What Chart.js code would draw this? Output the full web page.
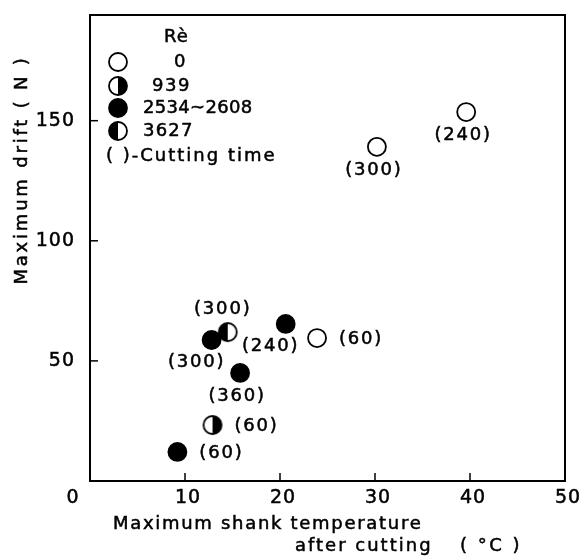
<!DOCTYPE html>
<html>
<head>
<meta charset="utf-8">
<script src="https://cdn.jsdelivr.net/npm/chart.js@4"></script>
<style>
  body { margin: 0; background: #fff; }
  #wrap { width: 581px; height: 556px; }
</style>
</head>
<body>
<div id="wrap"><canvas id="c"></canvas></div>
<script>
// data (x: shank temperature °C, y: drift N, t: cutting time)
const re0X = [23.9, 30.2, 39.6];
const re0Y = [59.5, 139.1, 153.6];
const re0T = [60, 300, 240];

const re939X = [12.9];
const re939Y = [23.3];
const re939T = [60];

const re2534X = [9.2, 12.8, 15.8, 20.6];
const re2534Y = [12.1, 58.7, 45.0, 65.4];
const re2534T = [60, 300, 360, 240];

const re3627X = [14.5];
const re3627Y = [62.0];
const re3627T = [300];

const xTicks = [0, 10, 20, 30, 40, 50];
const yTicks = [50, 100, 150];
const legendNames = ['0', '939', '2534~2608', '3627'];

// where each "(time)" label sits next to its point
const lblPos = {
  re0: ['right', 'below', 'below'],
  re939: ['right'],
  re2534: ['right', 'belowLeft', 'below', 'belowLeft'],
  re3627: ['above'],
};

const FONT = '"DejaVu Sans", sans-serif';
const R = 9;

function halfCircle(side) {
  const s = 2 * R + 4, c = document.createElement('canvas');
  c.width = c.height = s;
  const ctx = c.getContext('2d'), m = s / 2;
  ctx.fillStyle = '#fff';
  ctx.beginPath(); ctx.arc(m, m, R, 0, Math.PI * 2); ctx.fill();
  ctx.fillStyle = '#000';
  ctx.beginPath(); ctx.moveTo(m, m - R);
  ctx.arc(m, m, R, -Math.PI / 2, Math.PI / 2, side === 'left');
  ctx.closePath(); ctx.fill();
  ctx.lineWidth = 1.8; ctx.strokeStyle = '#000';
  ctx.beginPath(); ctx.arc(m, m, R, 0, Math.PI * 2); ctx.stroke();
  return c;
}
const rightHalf = halfCircle('right');
const leftHalf = halfCircle('left');

const pts = (xs, ys, ts) => xs.map((x, i) => ({ x, y: ys[i], t: ts[i] }));
const base = { pointRadius: R, pointHoverRadius: R, borderColor: '#000', pointBorderWidth: 1.8, showLine: false };

const datasets = [
  { ...base, key: 're0', label: legendNames[0], data: pts(re0X, re0Y, re0T), pointStyle: 'circle', backgroundColor: '#fff' },
  { ...base, key: 're939', label: legendNames[1], data: pts(re939X, re939Y, re939T), pointStyle: rightHalf },
  { ...base, key: 're2534', label: legendNames[2], data: pts(re2534X, re2534Y, re2534T), pointStyle: 'circle', backgroundColor: '#000' },
  { ...base, key: 're3627', label: legendNames[3], data: pts(re3627X, re3627Y, re3627T), pointStyle: leftHalf },
];

// text a little heavier than the stock face, with wide spacing like the print
function spaced(ctx, txt, x, y, sp) {
  ctx.letterSpacing = sp + 'px';
  ctx.lineWidth = 0.5;
  ctx.fillText(txt, x, y);
  ctx.strokeText(txt, x, y);
  ctx.letterSpacing = '0px';
}

const figure = {
  id: 'figure',
  afterDatasetsDraw(chart) {
    const { ctx, chartArea: a, scales: { x, y } } = chart;
    ctx.save();
    ctx.strokeStyle = '#000'; ctx.fillStyle = '#000';
    ctx.lineWidth = 2;
    ctx.strokeRect(a.left, a.top, a.right - a.left, a.bottom - a.top);

    // inward ticks + labels
    ctx.font = '19px ' + FONT;
    ctx.textBaseline = 'middle';
    ctx.textAlign = 'center';
    xTicks.forEach(v => {
      const px = x.getPixelForValue(v);
      if (v > 0 && v < 50) { ctx.lineWidth = 1.5; ctx.beginPath(); ctx.moveTo(px, a.bottom); ctx.lineTo(px, a.bottom - 8); ctx.stroke(); }
      spaced(ctx, String(v), px + (v === 0 ? -17 : 3), a.bottom + 17, 1);
    });
    ctx.textAlign = 'right';
    yTicks.forEach(v => {
      const py = y.getPixelForValue(v);
      ctx.lineWidth = 1.5;
      ctx.beginPath(); ctx.moveTo(a.left, py); ctx.lineTo(a.left + 8, py); ctx.stroke();
      spaced(ctx, String(v), a.left - 15, py, 1);
    });

    // axis titles
    ctx.font = '18px ' + FONT;
    ctx.textAlign = 'left';
    spaced(ctx, 'Maximum shank temperature', 113, 524, 1.7);
    spaced(ctx, 'after cutting', 295, 546, 2);
    spaced(ctx, '( °C )', 460, 546, 2.5);
    ctx.save();
    ctx.translate(22, 170); ctx.rotate(-Math.PI / 2);
    ctx.textAlign = 'center';
    spaced(ctx, 'Maximum drift ( N )', 0, 0, 2.8);
    ctx.restore();

    // legend
    ctx.font = '18px ' + FONT;
    ctx.textAlign = 'left';
    spaced(ctx, 'Rè', 164, 37, 1);
    const rowsY = [62, 86, 108, 131];
    const textX = [174, 152, 143, 143];
    const textSp = [1.2, 1.5, 0.3, 1.2];
    chart.data.datasets.forEach((ds, i) => {
      const cy = rowsY[i], cx = 118;
      if (ds.pointStyle === 'circle') {
        ctx.beginPath(); ctx.arc(cx, cy, R, 0, Math.PI * 2);
        ctx.fillStyle = ds.backgroundColor; ctx.fill();
        ctx.lineWidth = 1.8; ctx.stroke();
        ctx.fillStyle = '#000';
      } else {
        ctx.drawImage(ds.pointStyle, cx - ds.pointStyle.width / 2, cy - ds.pointStyle.height / 2);
      }
      spaced(ctx, ds.label, textX[i], cy, textSp[i]);
    });
    spaced(ctx, '( )-Cutting time', 106, 156, 2);

    // cutting-time labels next to the points
    ctx.font = '18px ' + FONT;
    ctx.textAlign = 'center';
    chart.data.datasets.forEach((ds, i) => {
      const meta = chart.getDatasetMeta(i);
      ds.data.forEach((d, j) => {
        const el = meta.data[j], txt = '(' + d.t + ')';
        let dx = 0, dy = 0;
        switch (lblPos[ds.key][j]) {
          case 'right': dx = 44; dy = 1; break;
          case 'below': dx = -3; dy = 23; break;
          case 'belowLeft': dx = -15; dy = 22; break;
          case 'above': dx = -5; dy = -23; break;
        }
        spaced(ctx, txt, el.x + dx, el.y + dy, 1.8);
      });
    });
    ctx.restore();
  }
};

new Chart(document.getElementById('c'), {
  type: 'scatter',
  data: { datasets },
  options: {
    responsive: true, maintainAspectRatio: false, animation: false,
    layout: { padding: { left: 90, right: 16, top: 15, bottom: 75 } },
    plugins: { legend: { display: false }, tooltip: { enabled: false } },
    scales: {
      x: { type: 'linear', min: 0, max: 50, display: false },
      y: { type: 'linear', min: 0, max: 194, display: false },
    },
  },
  plugins: [figure],
});
</script>
</body>
</html>
